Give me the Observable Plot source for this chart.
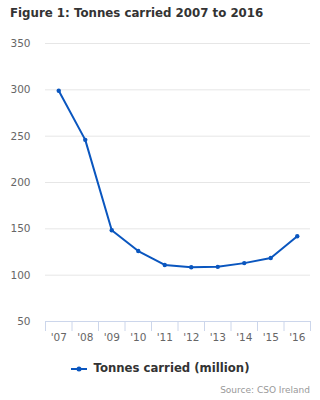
<!DOCTYPE html>
<html><head><meta charset="utf-8">
<script src="https://cdn.jsdelivr.net/npm/d3@7"></script>
<script src="https://cdn.jsdelivr.net/npm/@observablehq/plot@0.6"></script>
<style>
body{margin:0;width:320px;height:400px;background:#fff;font-family:"DejaVu Sans",Verdana,sans-serif;position:relative;overflow:hidden}
#title{position:absolute;left:10px;top:6px;font-size:11.8px;font-weight:bold;color:#333;white-space:nowrap}
#chart{position:absolute;left:0;top:33px}
#legend{position:absolute;left:0;width:320px;top:361px;text-align:center;font-size:11.7px;font-weight:bold;color:#333;white-space:nowrap}
#legend svg{vertical-align:middle;margin-right:7px}
#source{position:absolute;right:10px;top:385px;font-size:9px;color:#999;white-space:nowrap}
</style></head>
<body>
<div id="title">Figure 1: Tonnes carried 2007 to 2016</div>
<div id="chart"></div>
<div id="legend"><svg width="16" height="10"><line x1="0" y1="5" x2="16" y2="5" stroke="#0a56bf" stroke-width="2"/><circle cx="8" cy="5" r="2.5" fill="#0a56bf"/></svg>Tonnes carried (million)</div>
<div id="source">Source: CSO Ireland</div>
<script>
const years = [2007, 2008, 2009, 2010, 2011, 2012, 2013, 2014, 2015, 2016];
const tickLabels = ["'07", "'08", "'09", "'10", "'11", "'12", "'13", "'14", "'15", "'16"];
const tonnes = [299, 246, 148.5, 126, 111, 108.5, 109, 113, 118.5, 142];
const yTicks = [50, 100, 150, 200, 250, 300, 350];

const data = years.map((y, i) => ({year: y, value: tonnes[i]}));
const boundaries = years.map(y => y - 0.5).concat([years[years.length - 1] + 0.5]);
const color = "#0a56bf";

const chart = Plot.plot({
  width: 320,
  height: 320,
  marginTop: 10,
  marginBottom: 32,
  marginLeft: 45,
  marginRight: 10,
  style: {fontFamily: "DejaVu Sans, Verdana, sans-serif", background: "#fff"},
  x: {domain: [years[0] - 0.5, years[years.length - 1] + 0.5], axis: null, label: null},
  y: {domain: [50, 350], axis: null, label: null},
  marks: [
    Plot.gridY(yTicks.filter(v => v > 50), {stroke: "#e6e6e6", strokeOpacity: 1}),
    Plot.axisY({ticks: yTicks, tickSize: 0, tickPadding: 15, label: null, tickFormat: d => String(d), fill: "#666", fontSize: 10.5}),
    Plot.axisX({ticks: boundaries, tickSize: 10, label: null, tickFormat: () => "", stroke: "#ccd6eb", strokeOpacity: 1}),
    Plot.axisX({ticks: years, tickSize: 0, tickPadding: 12, label: null, tickFormat: (d) => tickLabels[years.indexOf(d)], fill: "#666", fontSize: 10.5}),
    Plot.ruleY([50], {stroke: "#ccd6eb", strokeWidth: 1}),
    Plot.line(data, {x: "year", y: "value", stroke: color, strokeWidth: 2}),
    Plot.dot(data, {x: "year", y: "value", fill: color, r: 2.2})
  ]
});
document.getElementById("chart").appendChild(chart);
</script>
</body></html>
